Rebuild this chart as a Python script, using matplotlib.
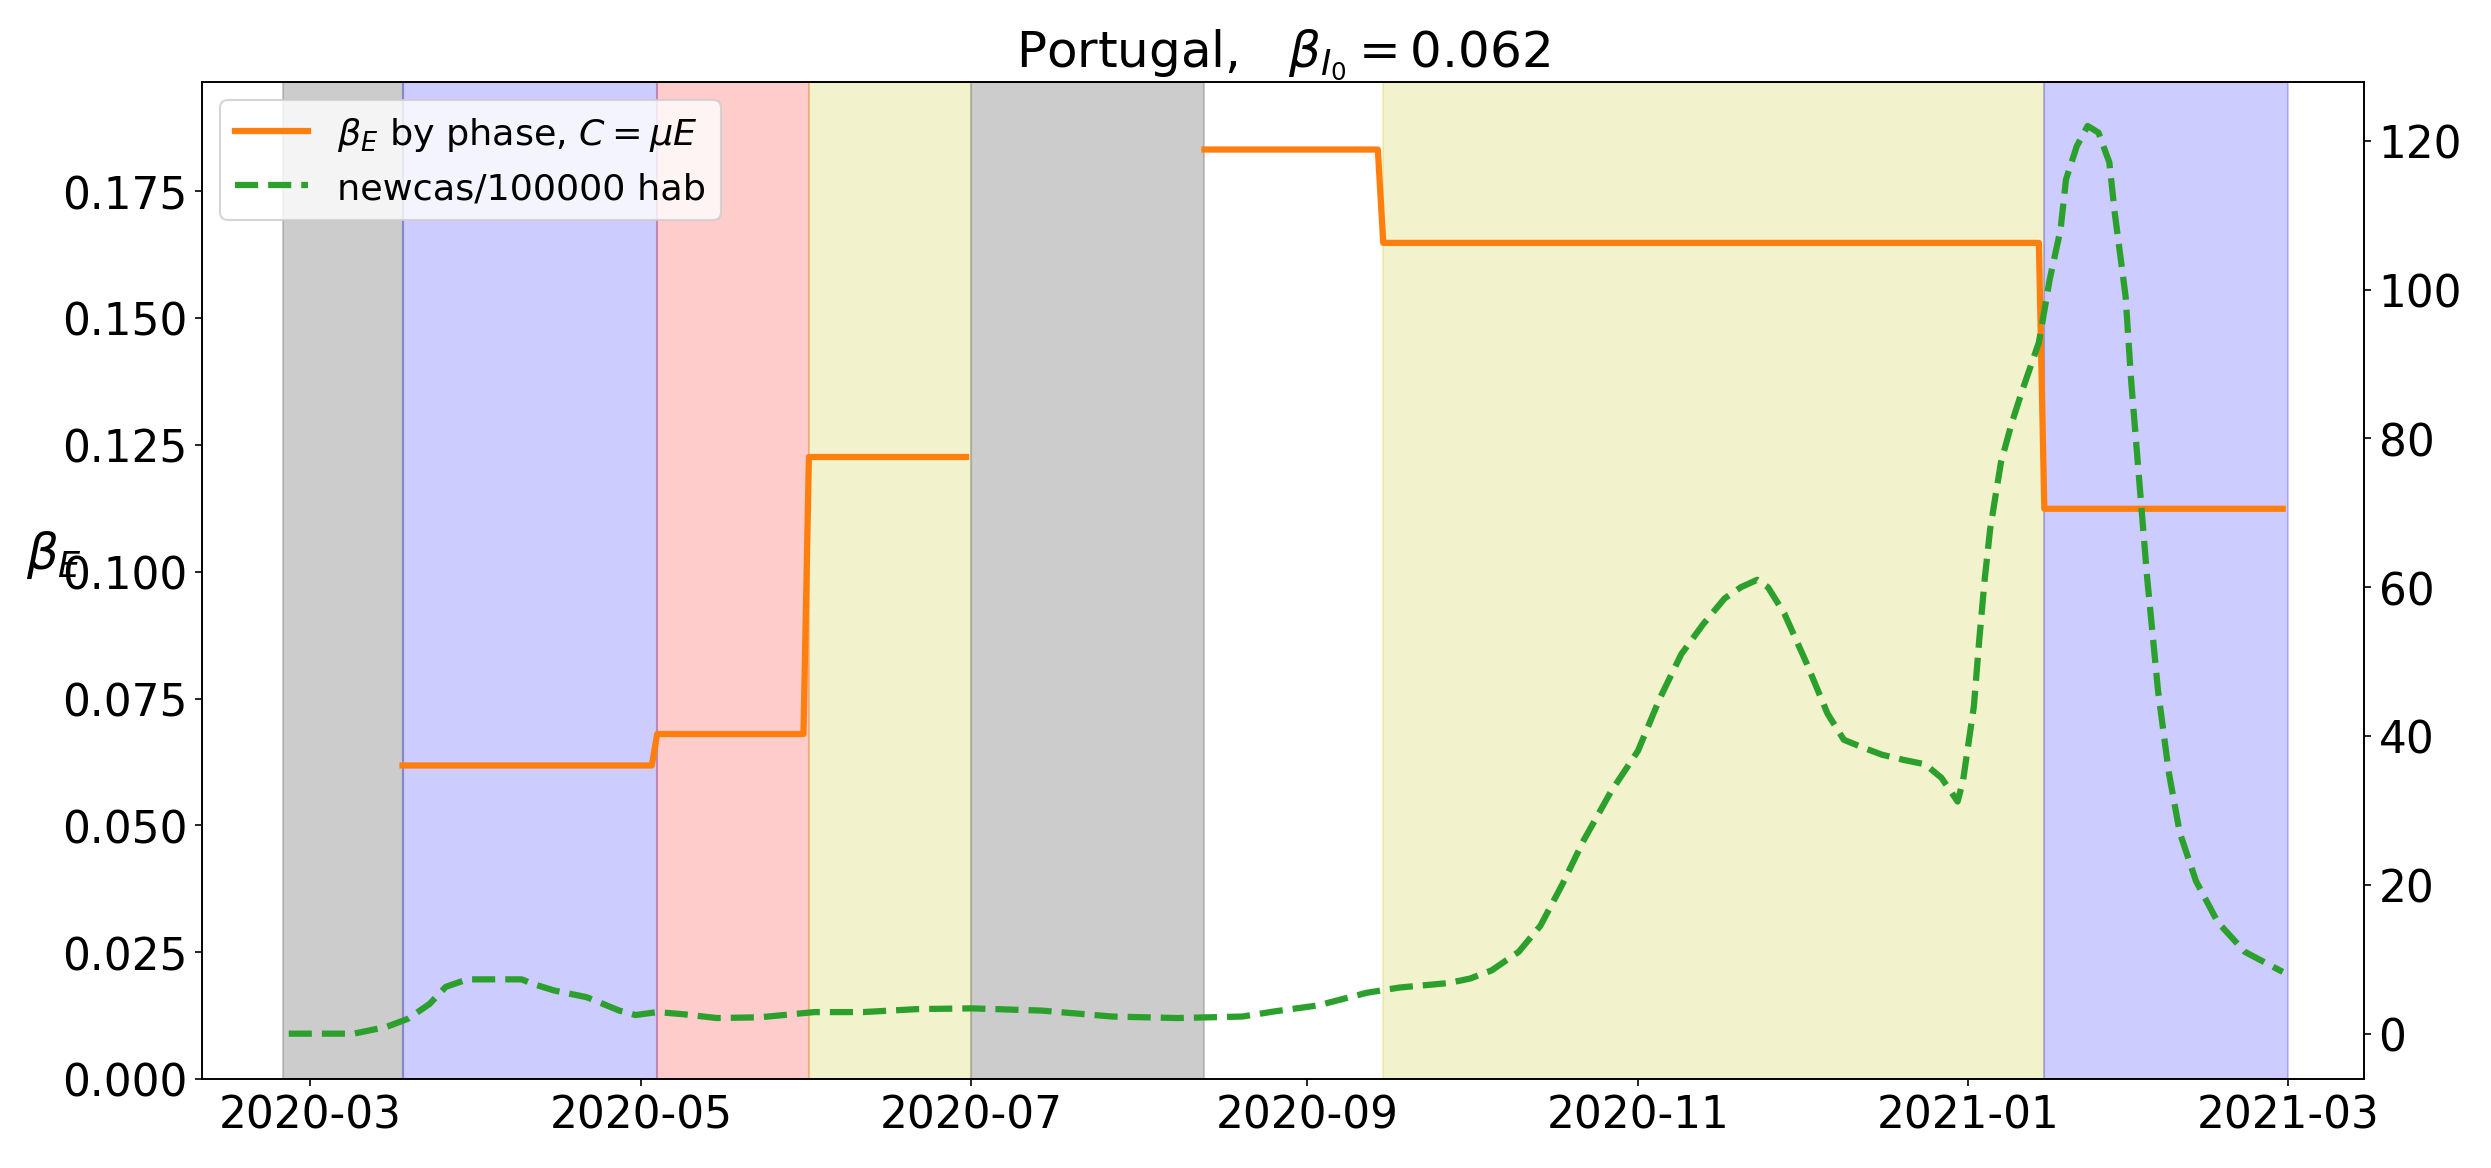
import numpy as np
import pandas as pd
import matplotlib
matplotlib.use('Agg')
import matplotlib.pyplot as plt
import matplotlib.dates as mdates

# phases: start, end (exclusive), span colour, beta_E value (None = no value)
phase_start = ['2020-02-25', '2020-03-18', '2020-05-04', '2020-06-01', '2020-07-01',
               '2020-08-13', '2020-09-15', '2021-01-15']
phase_end = ['2020-03-18', '2020-05-04', '2020-06-01', '2020-07-01', '2020-08-13',
             '2020-09-15', '2021-01-15', '2021-03-01']
phase_color = ['gray', 'blue', 'red', 'y', 'gray', None, 'y', 'blue']
phase_beta = [None, 0.0618, 0.0680, 0.1226, None, 0.1832, 0.1648, 0.1124]

# new cases per 100000 inhabitants
cas_dates = ['2020-02-26', '2020-03-09', '2020-03-15', '2020-03-19', '2020-03-23', '2020-03-26',
             '2020-03-30', '2020-04-09', '2020-04-11', '2020-04-15', '2020-04-21', '2020-04-27',
             '2020-04-30', '2020-05-04', '2020-05-09', '2020-05-15', '2020-05-23', '2020-06-02',
             '2020-06-11', '2020-06-21', '2020-07-01', '2020-07-14', '2020-07-27', '2020-08-08',
             '2020-08-20', '2020-08-26', '2020-09-03', '2020-09-12', '2020-09-18', '2020-09-27',
             '2020-10-01', '2020-10-05', '2020-10-10', '2020-10-14', '2020-10-18', '2020-10-22',
             '2020-10-27', '2020-11-01', '2020-11-05', '2020-11-09', '2020-11-13', '2020-11-17',
             '2020-11-20', '2020-11-23', '2020-11-25', '2020-11-28', '2020-12-02', '2020-12-06',
             '2020-12-09', '2020-12-12', '2020-12-16', '2020-12-20', '2020-12-24', '2020-12-27',
             '2020-12-30', '2020-12-31', '2021-01-02', '2021-01-03', '2021-01-04', '2021-01-05',
             '2021-01-07', '2021-01-09', '2021-01-11', '2021-01-14', '2021-01-16', '2021-01-18',
             '2021-01-19', '2021-01-21', '2021-01-23', '2021-01-25', '2021-01-27', '2021-01-28',
             '2021-01-30', '2021-01-31', '2021-02-01', '2021-02-02', '2021-02-03', '2021-02-05',
             '2021-02-07', '2021-02-09', '2021-02-12', '2021-02-16', '2021-02-21', '2021-02-28']
cas_values = [0.0, 0.0, 0.9, 2.0, 4.0, 6.3,
              7.3, 7.3, 6.7, 5.8, 4.9, 3.1,
              2.5, 2.9, 2.6, 2.1, 2.2, 2.9,
              2.9, 3.3, 3.4, 3.1, 2.3, 2.1,
              2.3, 3.0, 3.8, 5.5, 6.2, 6.8,
              7.4, 8.5, 11.0, 14.5, 20.0, 26.0,
              32.5, 38.0, 45.0, 51.0, 55.0, 58.5,
              60.0, 61.0, 60.0, 56.5, 50.0, 43.0,
              39.5, 38.6, 37.5, 36.8, 36.2, 34.4,
              31.2, 34.0, 44.0, 53.0, 61.1, 67.8,
              76.8, 82.1, 86.6, 92.9, 101.4, 108.1,
              114.8, 119.3, 122.0, 121.1, 117.1, 110.3,
              99.1, 88.0, 79.0, 70.0, 61.1, 46.0,
              35.0, 27.0, 20.5, 15.0, 11.0, 8.3]

# daily beta_E series, NaN where the phase has no value
days = pd.date_range('2020-02-25', '2021-02-28', freq='D')
beta = pd.Series(np.nan, index=days)
for s, e, b in zip(phase_start, phase_end, phase_beta):
    if b is not None:
        beta[(days >= s) & (days < e)] = b

fig = plt.figure(figsize=(16.607, 7.793), dpi=150)
ax = fig.add_axes([0.0811, 0.0761, 0.8679, 0.8529])
ax2 = ax.twinx()

for s, e, c in zip(phase_start, phase_end, phase_color):
    if c is None:
        continue
    alpha = 0.4 if c == 'gray' else 0.2
    ax.axvspan(pd.Timestamp(s), pd.Timestamp(e), color=c, alpha=alpha)

l1, = ax.plot(beta.index, beta.values, color='C1', lw=3,
              label=r'$\beta_E$ by phase, $C=\mu E$')
l2, = ax2.plot(pd.to_datetime(cas_dates), cas_values, color='C2', ls='--', lw=3,
               label='newcas/100000 hab')

ax.set_xlim(pd.Timestamp('2020-02-10'), pd.Timestamp('2021-03-15'))
ax.set_ylim(0, 0.1965)
ax2.set_ylim(-6.1, 127.9)
ax.xaxis.set_major_locator(mdates.MonthLocator(bymonth=[1, 3, 5, 7, 9, 11]))
ax.xaxis.set_major_formatter(mdates.DateFormatter('%Y-%m'))

ax.tick_params(labelsize=21)
ax2.tick_params(labelsize=21)
ax.set_ylabel(r'$\beta_E$', rotation=0, fontsize=24)
ax.set_title(r'Portugal,   $\beta_{I_0} = 0.062$', fontsize=24)

ax2.legend(handles=[l1, l2], loc='upper left', fontsize=17.5)

fig.savefig('out.png', dpi=150)
